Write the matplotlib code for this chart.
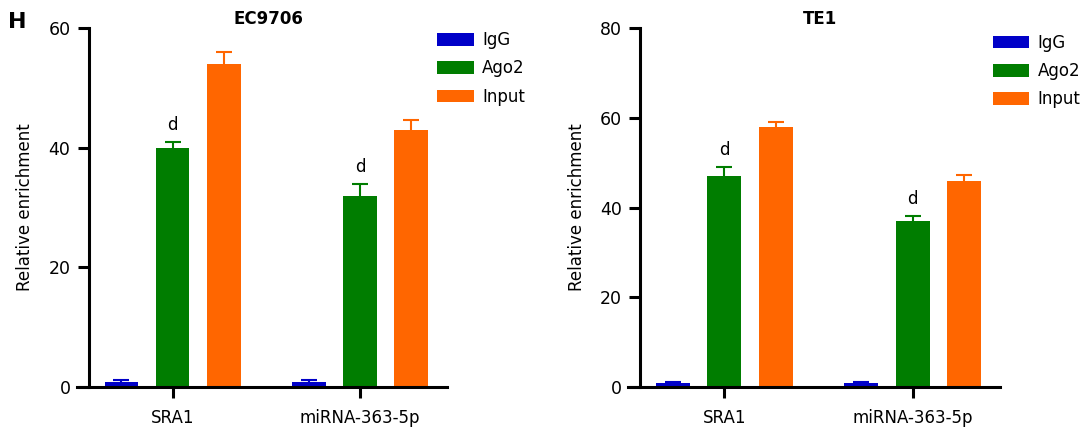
import numpy as np
import matplotlib.pyplot as plt

groups = ["SRA1", "miRNA-363-5p"]
series = ["IgG", "Ago2", "Input"]
colors = ["#0000C8", "#007D00", "#FF6600"]

ec_igg = [0.9, 0.9]
ec_igg_err = [0.2, 0.2]
ec_ago2 = [40, 32]
ec_ago2_err = [1.0, 2.0]
ec_input = [54, 43]
ec_input_err = [2.0, 1.6]

te_igg = [0.9, 0.9]
te_igg_err = [0.3, 0.3]
te_ago2 = [47, 37]
te_ago2_err = [2.0, 1.2]
te_input = [58, 46]
te_input_err = [1.0, 1.2]

plt.rcParams['font.family'] = 'DejaVu Sans'

fig = plt.figure(figsize=(10.85, 4.32), dpi=100)


def panel(rect, title, vals, errs, ymax, yticks, leg_anchor):
    ax = fig.add_axes(rect)
    x = np.arange(len(groups))
    offsets = [-0.273, 0, 0.273]
    width = 0.18
    for i in range(3):
        # symmetric error bar drawn behind the bar, so only the upper half shows
        ax.errorbar(x + offsets[i], vals[i], yerr=errs[i], fmt='none', ecolor=colors[i],
                    elinewidth=1.5, capsize=6, capthick=1.5, zorder=1)
        ax.bar(x + offsets[i], vals[i], width, color=colors[i], label=series[i], zorder=2)
    # significance marks over Ago2 bars
    for j in range(len(groups)):
        top = vals[1][j] + errs[1][j]
        ax.text(x[j], top + ymax * 0.022, "d", ha='center', va='bottom', fontsize=12)
    ax.set_xlim(-0.51, 1.465)
    ax.set_ylim(0, ymax)
    ax.set_yticks(yticks)
    ax.set_xticks(x)
    ax.set_xticklabels(groups, fontsize=12)
    ax.tick_params(axis='y', labelsize=12.5, length=8, width=2.2, pad=5)
    ax.tick_params(axis='x', length=8, width=2.2, pad=8)
    for s in ['top', 'right']:
        ax.spines[s].set_visible(False)
    ax.spines['left'].set_linewidth(2.2)
    ax.spines['bottom'].set_linewidth(2.2)
    ax.spines['left'].set_position(('axes', 0.031))
    ax.spines['left'].set_bounds(0, ymax)
    ax.set_ylabel("Relative enrichment", fontsize=12, labelpad=10)
    ax.set_title(title, fontsize=12, fontweight='bold', pad=3, x=0.516)
    ax.legend(loc='upper left', bbox_to_anchor=leg_anchor, bbox_transform=fig.transFigure,
              frameon=False, fontsize=12, handlelength=2.2, handleheight=0.8,
              labelspacing=0.62, handletextpad=0.5, borderpad=0, borderaxespad=0)
    return ax


ax1 = panel([0.071, 0.104, 0.341, 0.831], "EC9706",
            [ec_igg, ec_ago2, ec_input], [ec_igg_err, ec_ago2_err, ec_input_err],
            60, [0, 20, 40, 60], (0.403, 0.928))
ax2 = panel([0.579, 0.104, 0.343, 0.831], "TE1",
            [te_igg, te_ago2, te_input], [te_igg_err, te_ago2_err, te_input_err],
            80, [0, 20, 40, 60, 80], (0.915, 0.922))

fig.text(0.007, 0.972, "H", fontsize=16, fontweight='bold', va='top', ha='left')

fig.savefig("out.png", dpi=100)
